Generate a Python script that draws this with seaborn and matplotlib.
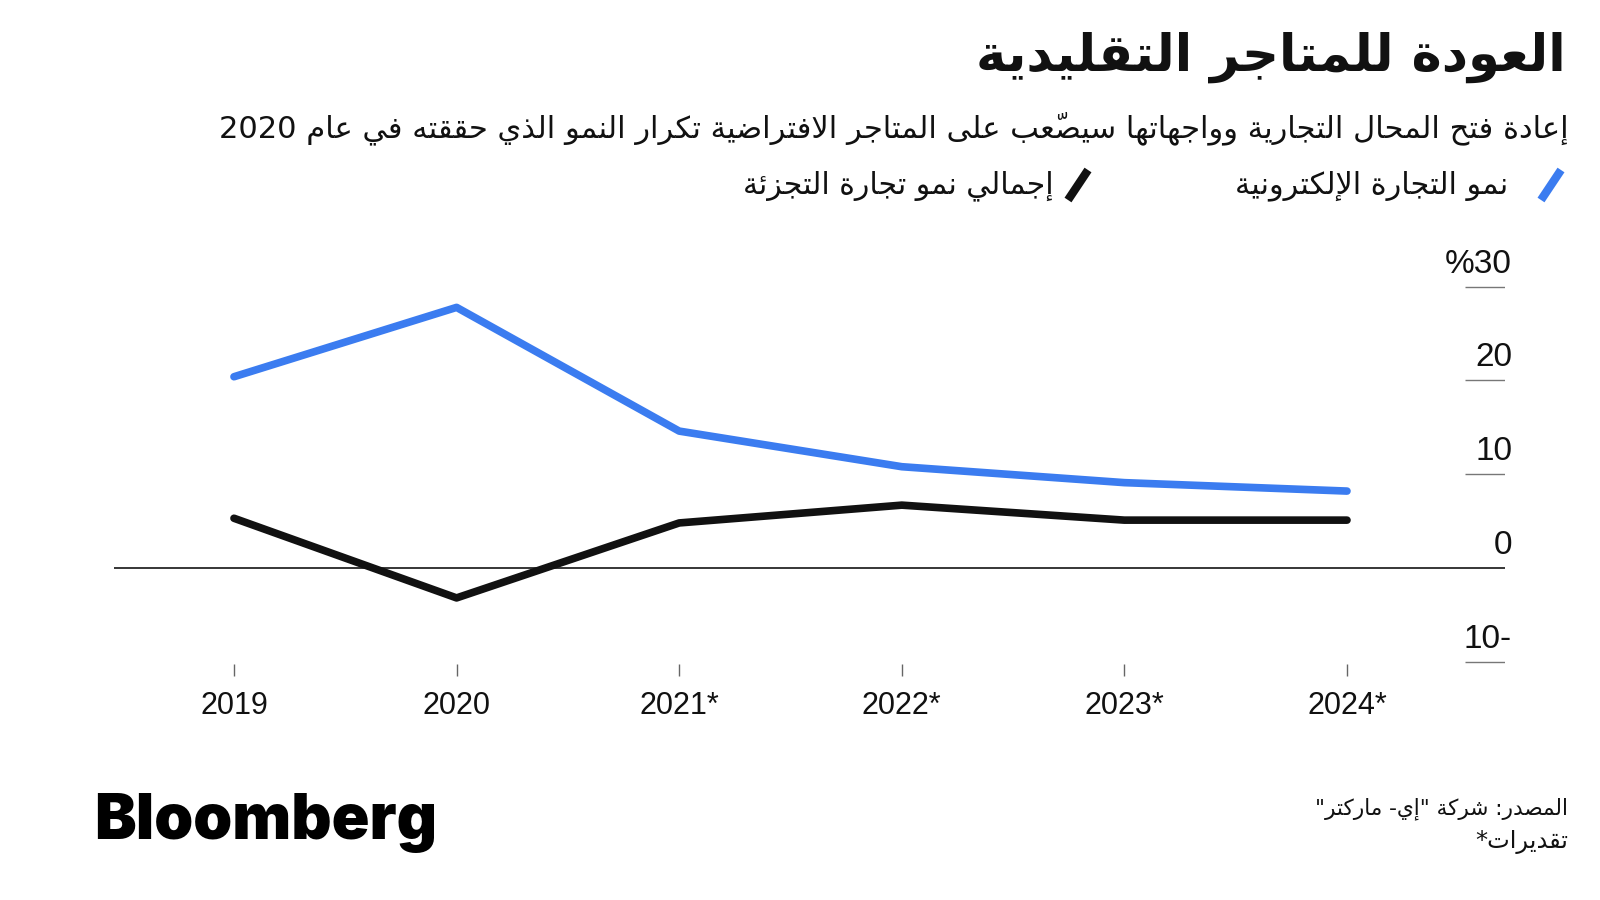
import pandas as pd
import seaborn as sns
import matplotlib.pyplot as plt
import matplotlib.transforms as mtransforms
from matplotlib.lines import Line2D

# Données (en %)
years = ["2019", "2020", "2021*", "2022*", "2023*", "2024*"]
ecommerce = [20.4, 27.8, 14.6, 10.8, 9.1, 8.2]
retail = [5.3, -3.2, 4.8, 6.7, 5.1, 5.1]
y_ticks = [30, 20, 10, 0, -10]
y_labels = ["%30", "20", "10", "0", "10-"]

title = "العودة للمتاجر التقليدية"
subtitle = "إعادة فتح المحال التجارية وواجهاتها سيصعّب على المتاجر الافتراضية تكرار النمو الذي حققته في عام 2020"
label_ecom = "نمو التجارة الإلكترونية"
label_retail = "إجمالي نمو تجارة التجزئة"
source = 'المصدر: شركة "إي- ماركتر"'
note = "تقديرات*"

blue = "#3b7cf0"
black = "#111111"

# matplotlib ne sait pas lier les lettres arabes : petite mise en forme maison
DUAL = {'ئ': 0xFE89, 'ب': 0xFE8F, 'ت': 0xFE95, 'ث': 0xFE99, 'ج': 0xFE9D, 'ح': 0xFEA1,
        'خ': 0xFEA5, 'س': 0xFEB1, 'ش': 0xFEB5, 'ص': 0xFEB9, 'ض': 0xFEBD, 'ط': 0xFEC1,
        'ظ': 0xFEC5, 'ع': 0xFEC9, 'غ': 0xFECD, 'ف': 0xFED1, 'ق': 0xFED5, 'ك': 0xFED9,
        'ل': 0xFEDD, 'م': 0xFEE1, 'ن': 0xFEE5, 'ه': 0xFEE9, 'ي': 0xFEF1}
RIGHT = {'آ': 0xFE81, 'أ': 0xFE83, 'ؤ': 0xFE85, 'إ': 0xFE87, 'ا': 0xFE8D, 'ة': 0xFE93,
         'د': 0xFEA9, 'ذ': 0xFEAB, 'ر': 0xFEAD, 'ز': 0xFEAF, 'و': 0xFEED, 'ى': 0xFEEF}
LAM_ALEF = {'آ': 0xFEF5, 'أ': 0xFEF7, 'إ': 0xFEF9, 'ا': 0xFEFB}
MARKS = set('\u064B\u064C\u064D\u064E\u064F\u0650\u0651\u0652')


def ar(text):
    chars = list(text)
    n = len(chars)
    clusters = []
    joins_prev = False
    i = 0
    while i < n:
        c = chars[i]
        if c in MARKS:
            clusters[-1] += c
            i += 1
            continue
        j = i + 1
        while j < n and chars[j] in MARKS:
            j += 1
        after = chars[j] if j < n else ''
        if c == 'ل' and after in LAM_ALEF:
            clusters.append(chr(LAM_ALEF[after] + (1 if joins_prev else 0)))
            joins_prev = False
            i = j + 1
            continue
        if c in DUAL:
            to_next = after in DUAL or after in RIGHT
            form = {(False, False): 0, (True, False): 1, (False, True): 2, (True, True): 3}[(joins_prev, to_next)]
            clusters.append(chr(DUAL[c] + form))
            joins_prev = to_next
        elif c in RIGHT:
            clusters.append(chr(RIGHT[c] + (1 if joins_prev else 0)))
            joins_prev = False
        else:
            clusters.append(c)
            joins_prev = False
        i += 1
    # les chiffres restent de gauche à droite, le reste est inversé
    visual = []
    for cl in clusters:
        if cl.isdigit() and visual and visual[-1].isdigit():
            visual[-1] += cl
        else:
            visual.append(cl)
    return ''.join(reversed(visual))


df = pd.DataFrame({
    "year": years * 2,
    "value": ecommerce + retail,
    "series": [label_ecom] * len(years) + [label_retail] * len(years),
})

sns.set_style("white")
plt.rcParams['font.family'] = ['Liberation Sans', 'DejaVu Sans']

fig = plt.figure(figsize=(16, 9), dpi=100)
ax = fig.add_axes([0.07125, 0.2489, 0.8694, 0.4533])

sns.lineplot(data=df, x="year", y="value", hue="series",
             palette={label_ecom: blue, label_retail: black},
             linewidth=5.5, legend=False, ax=ax, solid_capstyle="round")

ax.set_xlim(-0.539, 5.71)
ax.set_ylim(-11.53, 32.0)
ax.axhline(0, color="black", lw=1.1, zorder=1)

for s in ax.spines.values():
    s.set_visible(False)
ax.set_yticks([])
ax.set_xlabel("")
ax.set_ylabel("")
ax.tick_params(axis="x", direction="in", length=8.5, width=1, color="#666666",
               pad=11, labelsize=22, labelcolor="#111111", bottom=True)

# petits traits de grille à droite + étiquettes au-dessus
ytrans = ax.get_yaxis_transform()
ax.hlines([v for v in y_ticks if v != 0], 0.971, 1.0, transform=ytrans, color="#777777", lw=1)
lab_trans = mtransforms.offset_copy(ytrans, fig=fig, x=7, y=14, units="dots")
for v, lab in zip(y_ticks, y_labels):
    ax.text(1.0, v, lab, transform=lab_trans, ha="right", va="baseline",
            fontsize=24, color="#111111")

ar_font = ['DejaVu Sans']
renderer = fig.canvas.get_renderer()


def fit_text(x, y, txt, width, size, **kw):
    t = fig.text(x / 1600, 1 - y / 900, ar(txt), family=ar_font, fontsize=size,
                 ha="right", va="center", **kw)
    w = t.get_window_extent(renderer).width
    t.set_fontsize(size * width / w)
    return t


fit_text(1566, 57, title, 589, 34, fontweight="bold", color="#111111")
fit_text(1569, 128, subtitle, 1347, 19, color="#111111")
fit_text(1508, 186, label_ecom, 273, 18, color="#111111")
fit_text(1054, 186, label_retail, 311, 18, color="#111111")
fit_text(1568, 809, source, 255, 15, color="#111111")
fit_text(1568, 842, note, 93, 15, color="#111111")

# marqueurs de légende en forme de barre oblique
for x0, col in [(1541, blue), (1068, black)]:
    fig.add_artist(Line2D([x0 / 1600, (x0 + 20) / 1600], [1 - 200 / 900, 1 - 170 / 900],
                          color=col, lw=6, solid_capstyle="butt"))

fig.text(94 / 1600, 1 - 839 / 900, "Bloomberg", family=["Inter", "Liberation Sans"],
         fontweight="black", fontsize=45, color="#000000", ha="left", va="baseline")

fig.savefig("out.png", dpi=100, facecolor="white")
